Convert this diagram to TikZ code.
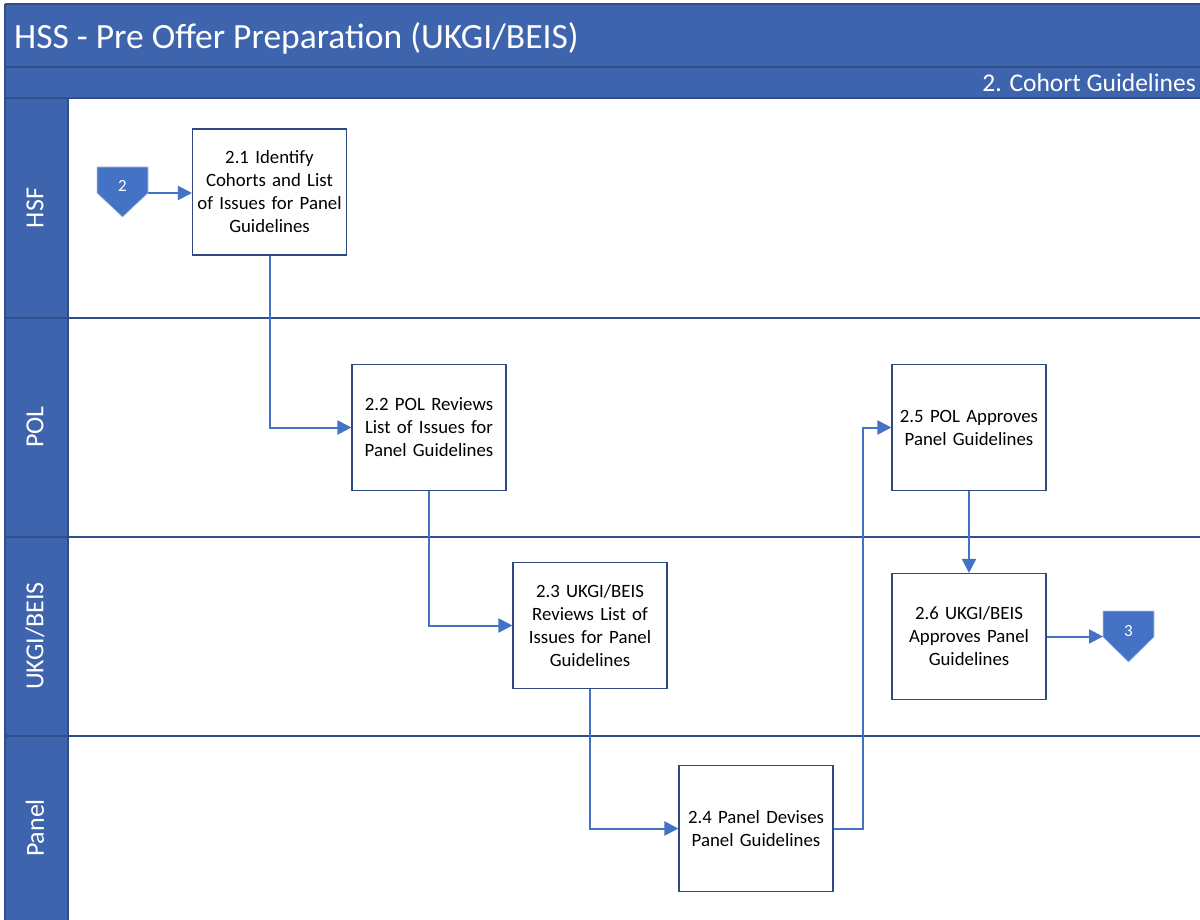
\documentclass[tikz,border=0pt]{standalone}
\usepackage{fontspec}
\setmainfont{Carlito}
\usetikzlibrary{arrows.meta,calc}
\definecolor{hdr}{HTML}{3E64AD}
\definecolor{hdrline}{HTML}{2F4F8A}
\definecolor{flow}{HTML}{4472C4}
\definecolor{boxline}{HTML}{2E4A80}
\definecolor{opedge}{HTML}{B8C4DE}
\begin{document}
\begin{tikzpicture}[x=1pt,y=-1pt,
  proc/.style={draw=boxline, line width=1.1pt, fill=white, minimum width=154pt, minimum height=126pt,
    text width=152pt, align=center, inner sep=0pt, font=\fontsize{18.8}{23}\selectfont},
  flowarr/.style={draw=flow, line width=2pt, -{Triangle[length=14pt,width=14pt]}},
  lanelbl/.style={text=white, rotate=90, font=\fontsize{26}{30}\selectfont},
  opshape/.style={fill=flow, draw=opedge, line width=0.6pt},
  optext/.style={text=white, font=\fontsize{17}{20}\selectfont, inner sep=0pt},
  sep/.style={draw=hdrline, line width=1.4pt}]
\useasboundingbox (0,0) rectangle (1200,920);
\fill[white] (0,0) rectangle (1200,920);
% header
\fill[hdr] (5,4) rectangle (1200,98);
\fill[hdr] (5,98) rectangle (68,920);
\draw[sep] (5,4) -- (1200,4);
\draw[sep] (5,67) -- (1200,67);
\draw[sep] (5,98) -- (1200,98);
\draw[sep] (5,4) -- (5,920);
\draw[sep] (68,98) -- (68,920);
\draw[sep] (5,318) -- (1200,318);
\draw[sep] (5,537) -- (1200,537);
\draw[sep] (5,736) -- (1200,736);
\node[anchor=west, text=white, inner sep=0pt, font=\fontsize{35.5}{40}\selectfont] (title) at (14,38) {HSS - Pre Offer Preparation (UKGI/BEIS)};
\node[anchor=east, text=white, inner sep=0pt, font=\fontsize{25.5}{30}\selectfont] (subtitle) at (1196,83) {2. Cohort Guidelines};
% lane labels
\node[lanelbl] (lhsf) at (35,208) {HSF};
\node[lanelbl] (lpol) at (35,427) {POL};
\node[lanelbl] (lukgi) at (35,636) {UKGI/BEIS};
\node[lanelbl] (lpanel) at (35,828) {Panel};
% process boxes
\node[proc] (b21) at (269.5,192) {2.1 Identify\\Cohorts and List\\of Issues for Panel\\Guidelines};
\node[proc] (b22) at (429,427.5) {2.2 POL Reviews\\List of Issues for\\Panel Guidelines};
\node[proc] (b23) at (590,625.5) {2.3 UKGI/BEIS\\Reviews List of\\Issues for Panel\\Guidelines};
\node[proc] (b24) at (756,828.5) {2.4 Panel Devises\\Panel Guidelines};
\node[proc] (b25) at (969,427.5) {2.5 POL Approves\\Panel Guidelines};
\node[proc] (b26) at (969,636.5) {2.6 UKGI/BEIS\\Approves Panel\\Guidelines};
% off-page connectors
\coordinate (op2) at (122.5,186);
\fill[opshape] ($(op2)+(-25.5,-19)$) -- ($(op2)+(25.5,-19)$) -- ($(op2)+(25.5,7)$) -- ($(op2)+(0,31)$) -- ($(op2)+(-25.5,7)$) -- cycle;
\node[optext] (op2t) at (op2) {2};
\coordinate (op2e) at ($(op2)+(25.5,7)$);
\coordinate (op3) at (1128.5,631);
\fill[opshape] ($(op3)+(-25.5,-20)$) -- ($(op3)+(25.5,-20)$) -- ($(op3)+(25.5,6)$) -- ($(op3)+(0,31)$) -- ($(op3)+(-25.5,6)$) -- cycle;
\node[optext] (op3t) at (op3) {3};
\coordinate (op3w) at ($(op3)+(-25.5,6)$);
% connectors
\draw[flowarr] (op2e) -- (op2e -| b21.west);
\draw[flowarr] (b21.south) |- (b22.west);
\draw[flowarr] (b22.south) |- (b23.west);
\draw[flowarr] (b23.south) |- (b24.west);
\draw[flowarr] (b24.east) -- ++(29,0) |- (b25.west);
\draw[flowarr] (b25.south) -- (b26.north);
\draw[flowarr] (b26.east) -- (b26.east -| op3w);
\end{tikzpicture}
\end{document}
